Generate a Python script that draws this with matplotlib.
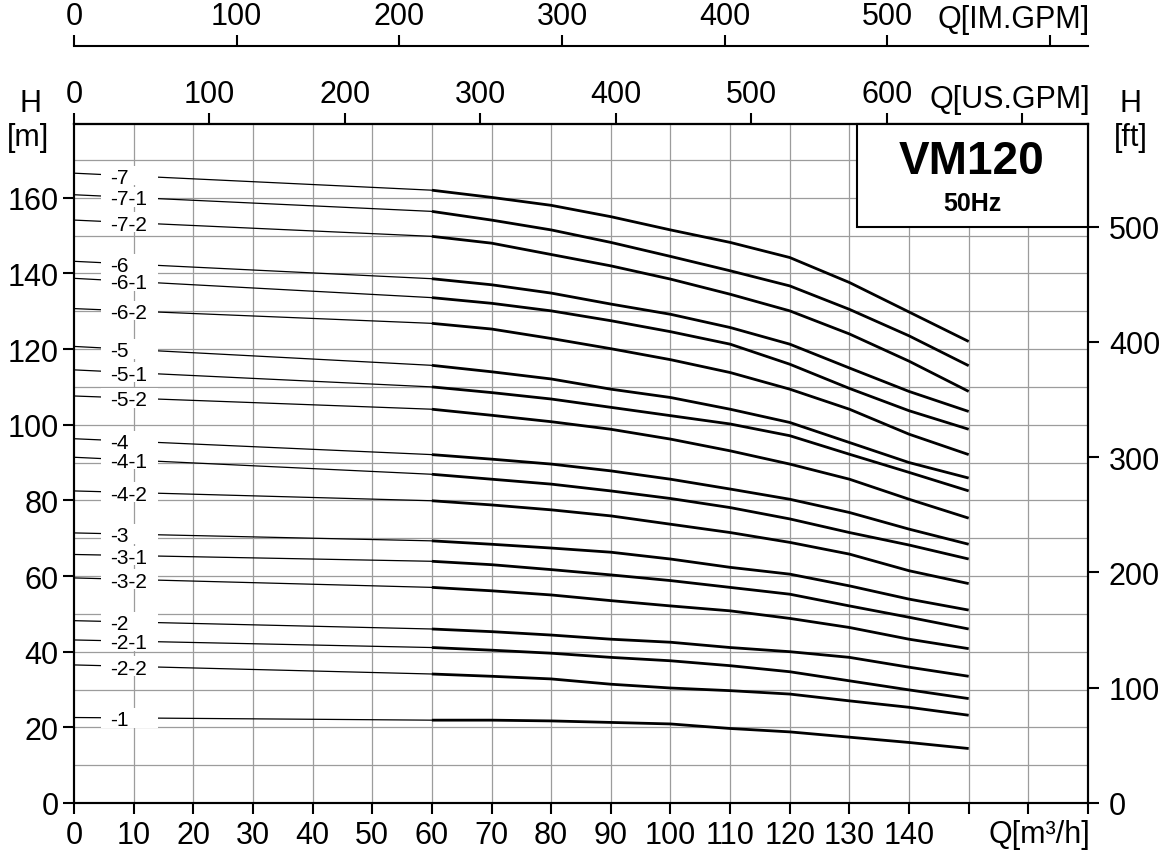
import matplotlib
matplotlib.use('Agg')
import matplotlib.pyplot as plt
from matplotlib.patches import Rectangle

plt.rcParams['font.family'] = ['Liberation Sans', 'DejaVu Sans']

# flow points (m3/h) where the head curves were read
flow = [0, 60, 70, 80, 90, 100, 110, 120, 130, 140, 150]

models = ['-7', '-7-1', '-7-2', '-6', '-6-1', '-6-2', '-5', '-5-1', '-5-2',
          '-4', '-4-1', '-4-2', '-3', '-3-1', '-3-2', '-2', '-2-1', '-2-2', '-1']

# head in m for each model at the flow points above
heads = [
    [166.5, 162.0, 160.1, 158.0, 155.0, 151.5, 148.2, 144.2, 137.6, 129.8, 122.0],
    [160.8, 156.4, 154.1, 151.5, 148.2, 144.5, 140.7, 136.7, 130.5, 123.5, 115.6],
    [154.1, 149.8, 148.0, 145.0, 142.0, 138.5, 134.5, 130.1, 124.0, 116.8, 108.8],
    [143.2, 138.6, 137.0, 134.8, 131.9, 129.2, 125.7, 121.3, 115.0, 108.8, 103.5],
    [138.7, 133.6, 132.1, 130.1, 127.5, 124.6, 121.3, 116.0, 109.6, 103.7, 98.8],
    [130.7, 126.8, 125.3, 122.8, 120.1, 117.2, 113.8, 109.4, 104.1, 97.5, 92.1],
    [120.7, 115.7, 114.0, 112.1, 109.4, 107.2, 104.1, 100.6, 95.3, 90.0, 85.9],
    [114.5, 110.0, 108.5, 106.8, 104.6, 102.4, 100.2, 97.1, 92.2, 87.4, 82.5],
    [107.6, 104.1, 102.5, 100.8, 98.8, 96.2, 93.1, 89.6, 85.6, 80.3, 75.3],
    [96.3, 92.1, 90.9, 89.6, 87.8, 85.6, 83.0, 80.3, 76.8, 72.4, 68.4],
    [91.4, 86.9, 85.6, 84.3, 82.5, 80.5, 78.1, 75.1, 71.5, 68.2, 64.5],
    [82.5, 79.9, 78.8, 77.5, 75.9, 73.7, 71.5, 68.9, 65.8, 61.4, 58.0],
    [71.4, 69.3, 68.4, 67.4, 66.3, 64.5, 62.3, 60.5, 57.4, 53.9, 51.0],
    [65.7, 63.9, 63.0, 61.7, 60.3, 58.8, 57.0, 55.2, 52.1, 49.1, 46.0],
    [59.5, 57.0, 56.1, 55.0, 53.5, 52.1, 50.8, 48.8, 46.4, 43.3, 40.8],
    [48.2, 46.0, 45.3, 44.4, 43.3, 42.5, 41.1, 40.0, 38.5, 35.9, 33.5],
    [43.1, 41.1, 40.4, 39.6, 38.5, 37.6, 36.3, 34.7, 32.3, 29.9, 27.6],
    [36.5, 34.1, 33.5, 32.8, 31.4, 30.4, 29.7, 28.8, 27.0, 25.3, 23.2],
    [22.6, 21.9, 21.9, 21.7, 21.3, 20.9, 19.7, 18.8, 17.4, 16.0, 14.4],
]

q_ticks = list(range(0, 171, 10))
h_ticks = list(range(0, 161, 20))
ft_ticks = list(range(0, 501, 100))
us_ticks = list(range(0, 701, 100))
im_ticks = list(range(0, 601, 100))

M3H_TO_US = 4.40287
M3H_TO_IM = 3.66615
M_TO_FT = 1 / 0.3048

FS = 22
W, H = 1166, 853

fig = plt.figure(figsize=(W / 100, H / 100), dpi=100)
ax = fig.add_axes([74 / W, 1 - 804 / H, (1088 - 74) / W, (804 - 125) / H])
ymax = 179.5
ax.set_xlim(0, 170)
ax.set_ylim(0, ymax)

# grid every 10 in both directions
for q in range(10, 170, 10):
    ax.axvline(q, color='#9c9c9c', lw=0.9, zorder=1)
for h in range(10, 180, 10):
    ax.axhline(h, color='#9c9c9c', lw=0.9, zorder=1)

for name, h in zip(models, heads):
    ax.plot(flow[:2], h[:2], color='black', lw=0.9, zorder=2)
    ax.plot(flow[1:], h[1:], color='black', lw=2.0, zorder=2,
            solid_capstyle='butt', solid_joinstyle='round')
    ylab = h[0] - (h[0] - h[1]) * 8 / 60
    ax.add_patch(Rectangle((4.5, ylab - 2.6), 9.6, 5.2, fc='white', ec='none', zorder=3))
    ax.text(6.0, ylab, name, fontsize=15, ha='left', va='center_baseline', zorder=4)

# ticks and spines
ax.set_xticks(q_ticks)
ax.set_xticklabels([str(q) if q <= 140 else '' for q in q_ticks])
ax.set_yticks(h_ticks)
ax.tick_params(axis='both', direction='out', length=8, width=1.5, labelsize=FS)
ax.tick_params(axis='x', pad=4)
ax.tick_params(axis='y', pad=3)
for s in ax.spines.values():
    s.set_linewidth(1.5)

# right axis in ft
axr = ax.twinx()
axr.set_ylim(0, ymax * M_TO_FT)
axr.set_yticks(ft_ticks)
axr.tick_params(axis='y', direction='out', length=8, width=1.5, labelsize=FS, pad=7)
for s in axr.spines.values():
    s.set_linewidth(1.5)

# top axis in US gpm
sec_us = ax.secondary_xaxis('top', functions=(lambda x: x * M3H_TO_US,
                                              lambda x: x / M3H_TO_US))
sec_us.set_xticks(us_ticks)
sec_us.set_xticklabels([str(t) if t <= 600 else '' for t in us_ticks])
sec_us.tick_params(direction='out', length=8, width=1.5, labelsize=FS, pad=3)
sec_us.spines['top'].set_linewidth(1.5)

# upper axis in imperial gpm
sec_im = ax.secondary_xaxis(1 + 78 / 679, functions=(lambda x: x * M3H_TO_IM,
                                                    lambda x: x / M3H_TO_IM))
sec_im.set_xticks(im_ticks)
sec_im.set_xticklabels([str(t) if t <= 500 else '' for t in im_ticks])
sec_im.tick_params(direction='out', length=8, width=1.5, labelsize=FS, pad=3)
sec_im.spines['top'].set_linewidth(1.5)

# model box
ax.add_patch(Rectangle(((857 - 74) / 1014, (804 - 228) / 679),
                       1 - (857 - 74) / 1014, 1 - (804 - 228) / 679,
                       transform=ax.transAxes, fc='white', ec='black', lw=1.5,
                       zorder=5, clip_on=False))
ax.text((972 - 74) / 1014, (804 - 162) / 679, 'VM120', transform=ax.transAxes,
        ha='center', va='center', fontsize=33, fontweight='bold', zorder=6)
ax.text((972 - 74) / 1014, (804 - 204) / 679, '50Hz', transform=ax.transAxes,
        ha='center', va='center', fontsize=18, fontweight='bold', zorder=6)

# axis names
fig.text(30 / W, 1 - 104 / H, 'H', ha='center', va='center', fontsize=FS)
fig.text(28 / W, 1 - 138 / H, '[m]', ha='center', va='center', fontsize=FS)
fig.text(1131 / W, 1 - 104 / H, 'H', ha='center', va='center', fontsize=FS)
fig.text(1131 / W, 1 - 138 / H, '[ft]', ha='center', va='center', fontsize=FS)
fig.text(1090 / W, 1 - 835 / H, 'Q[m³/h]', ha='right', va='center', fontsize=FS)
fig.text(1090 / W, 1 - 100 / H, 'Q[US.GPM]', ha='right', va='center', fontsize=FS)
fig.text(1090 / W, 1 - 20 / H, 'Q[IM.GPM]', ha='right', va='center', fontsize=FS)

fig.savefig('out.png', dpi=100)
